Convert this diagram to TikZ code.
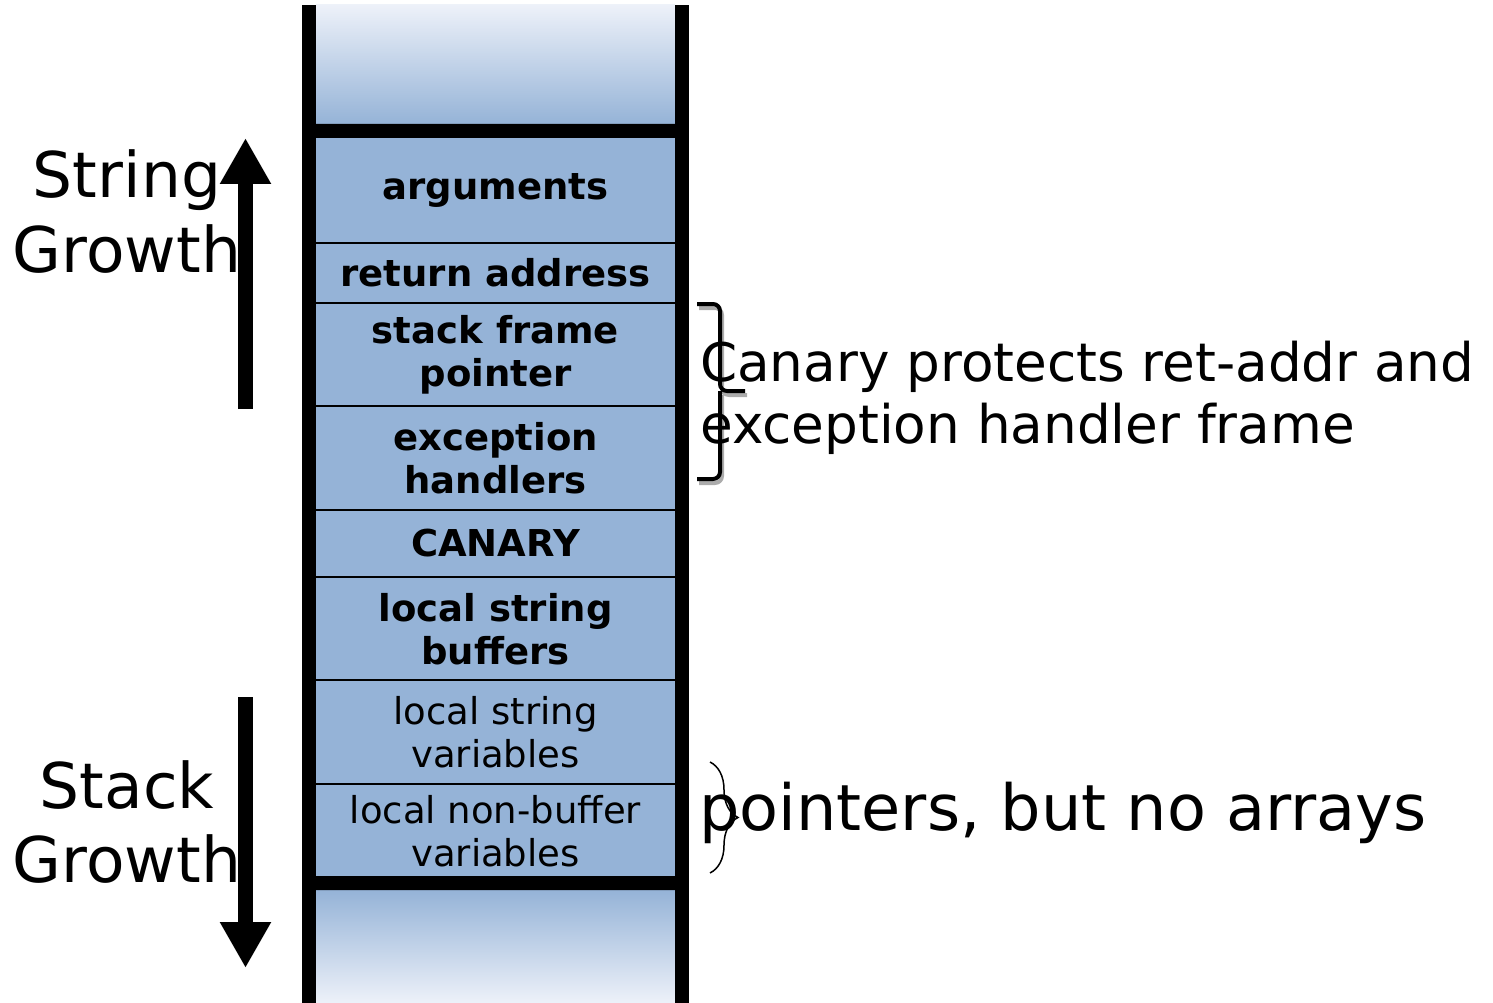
\documentclass[tikz,border=0pt]{standalone}
\usepackage{fontspec}
\setmainfont{DejaVu Sans}
\usetikzlibrary{arrows.meta,decorations.pathreplacing}
\definecolor{cellblue}{HTML}{95B3D7}
\definecolor{paleblue}{HTML}{EDF1F9}
\begin{document}
\begin{tikzpicture}[x=1pt,y=-1pt,
  cell/.style={fill=cellblue, minimum width=359pt, inner sep=0pt, anchor=north,
    align=center, font=\fontsize{37}{43}\selectfont\bfseries},
  plaincell/.style={cell, font=\fontsize{37}{43}\selectfont},
  divider/.style={line width=2pt},
  label/.style={inner sep=0pt, anchor=base, font=\fontsize{63}{75}\selectfont},
  note/.style={inner sep=0pt, anchor=base west, font=\fontsize{53.2}{62}\selectfont},
  bignote/.style={inner sep=0pt, anchor=base west, font=\fontsize{63.7}{75}\selectfont},
  growth/.style={line width=15pt, -{Triangle[length=46pt,width=48pt]}}]
\useasboundingbox (0,0) rectangle (1493,1003);

% faded regions above and below the frame
\shade[top color=paleblue, bottom color=cellblue] (316,5) rectangle (675,124);
\shade[top color=cellblue, bottom color=paleblue] (316,890) rectangle (675,1003);

% stack frame cells
\node[cell, minimum height=105pt] (args) at (495.5,138) {arguments};
\node[cell, minimum height=59pt] (ret) at (args.south) {return address};
\node[cell, minimum height=103pt] (sfp) at (ret.south) {stack frame\\pointer};
\node[cell, minimum height=103pt] (exc) at (sfp.south) {exception\\handlers};
\node[cell, minimum height=67pt] (canary) at (exc.south) {CANARY};
\node[cell, minimum height=103pt] (lsb) at (canary.south) {local string\\buffers};
\node[plaincell, minimum height=103pt] (lsv) at (lsb.south) {local string\\variables};
\node[plaincell, minimum height=95pt] (lnb) at (lsv.south) {local non-buffer\\variables};

% cell dividers
\foreach \c in {ret,sfp,exc,canary,lsb,lsv,lnb}
  \draw[divider] (\c.north west) -- (\c.north east);

% frame boundaries
\fill (309,131) -- (316,124) -- (675,124) -- (682,131) -- (675,138) -- (316,138) -- cycle;
\fill (309,883) -- (316,876) -- (675,876) -- (682,883) -- (675,890) -- (316,890) -- cycle;

% stack walls
\fill (302,5) rectangle (316,1003);
\fill (675,5) rectangle (689,1003);

% growth arrows
\draw[growth] (245.5,409) -- (245.5,138);
\draw[growth] (245.5,697) -- (245.5,968);

% growth labels
\node[label] (str1) at (127,197) {String};
\node[label] (str2) at (127,272) {Growth};
\node[label] (stk1) at (127,808) {Stack};
\node[label] (stk2) at (127,882) {Growth};

% bracket over the protected slots
\begin{scope}[line width=4pt, rounded corners=7pt]
  \draw[gray!65, shift={(2,4)}] (697,304) -- (720,304) -- (720,391) -- (745,391)
        (720,391) -- (720,479) -- (697,479);
  \draw (697,304) -- (720,304) -- (720,391) -- (745,391)
        (720,391) -- (720,479) -- (697,479);
\end{scope}

% brace over the unprotected slots
\draw[line width=1.5pt, decorate, decoration={brace, amplitude=28pt}]
  (710,762) -- (710,873);

% notes
\node[note] (canary1) at (700,381) {Canary protects ret-addr and};
\node[note] (canary2) at (700,443) {exception handler frame};
\node[bignote] (ptrs) at (699,830) {pointers, but no arrays};
\end{tikzpicture}
\end{document}
